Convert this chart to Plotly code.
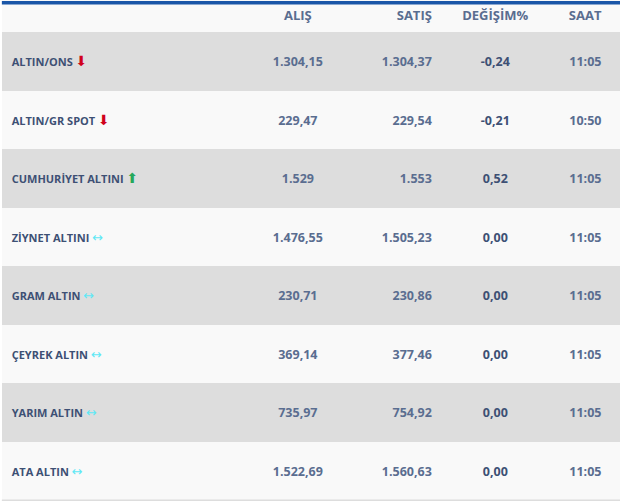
import plotly.graph_objects as go

# gold prices table
names = ["ALTIN/ONS", "ALTIN/GR SPOT", "CUMHURİYET ALTINI", "ZİYNET ALTINI",
         "GRAM ALTIN", "ÇEYREK ALTIN", "YARIM ALTIN", "ATA ALTIN"]
direction = ["down", "down", "up", "flat", "flat", "flat", "flat", "flat"]
alis = ["1.304,15", "229,47", "1.529", "1.476,55", "230,71", "369,14", "735,97", "1.522,69"]
satis = ["1.304,37", "229,54", "1.553", "1.505,23", "230,86", "377,46", "754,92", "1.560,63"]
degisim = ["-0,24", "-0,21", "0,52", "0,00", "0,00", "0,00", "0,00", "0,00"]
saat = ["11:05", "10:50", "11:05", "11:05", "11:05", "11:05", "11:05", "11:05"]
headers = ["", "ALIŞ", "SATIŞ", "DEĞİŞİM%", "SAAT"]

arrows = {
    "down": '<span style="color:#d0021b;font-family:DejaVu Sans;font-size:14px">⬇</span>',
    "up": '<span style="color:#27a85a;font-family:DejaVu Sans;font-size:14px">⬆</span>',
    "flat": '<span style="color:#5fe8f5;font-family:DejaVu Sans;font-size:13px">↔</span>',
}

# an empty first line pushes the text down to the middle of the row,
# its height comes from the cell font so the real size goes on a span
name_text = ["&nbsp;<br>\u2009<b>%s</b> %s" % (n, arrows[d]) for n, d in zip(names, direction)]


def bold(vals, size=12.5):
    return ['&nbsp;<br><span style="font-size:%spx"><b>%s</b></span>' % (size, v) for v in vals]


row_colors = ["#dddddd" if i % 2 == 0 else "#f9f9f9" for i in range(len(names))]

# plotly won't make the header row thinner than ~35px, so the whole plot
# sits 4px above the top of the page and is 4px taller to make up for it
nudge = 4
fig_h = 501 + nudge

fig = go.Figure(go.Table(
    domain=dict(x=[0.003, 1], y=[0, 1]),
    columnwidth=[238, 116, 84, 111, 69],
    header=dict(
        values=bold(headers, 13),
        align=["left", "center", "right", "center", "center"],
        fill_color="#f9f9f9",
        line_color="rgba(0,0,0,0)",
        font=dict(family="Open Sans", size=7, color="#5a6d90"),
        height=36,
    ),
    cells=dict(
        values=[name_text, bold(alis), bold(satis), bold(degisim), bold(saat)],
        align=["left", "center", "right", "center", "center"],
        fill_color=[row_colors] * 5,
        line_color="rgba(0,0,0,0)",
        font=dict(family="Open Sans", size=11, color=["#3d5074", "#5a6d90", "#5a6d90", "#3d5074", "#5a6d90"]),
        height=58.5,
    ),
))

fig.update_layout(
    width=620, height=fig_h,
    margin=dict(l=0, r=0, t=0, b=0),
    paper_bgcolor="#ffffff",
    shapes=[
        dict(type="rect", xref="paper", yref="paper", x0=0.003, x1=1,
             y0=1 - (4.5 + nudge) / fig_h, y1=1 - (1 + nudge) / fig_h,
             fillcolor="#1a56a8", line_width=0, layer="above"),
        dict(type="rect", xref="paper", yref="paper", x0=0.003, x1=1,
             y0=0, y1=1.5 / fig_h,
             fillcolor="#dddddd", line_width=0, layer="above"),
    ],
)

fig.write_html("out.html", config={"displayModeBar": False},
               post_script="document.body.style.margin='-%dpx 0 0 0';" % nudge)
